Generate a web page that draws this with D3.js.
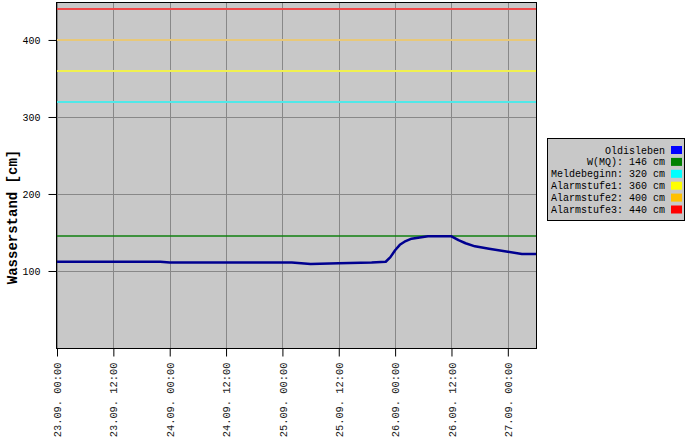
<!DOCTYPE html>
<html>
<head>
<meta charset="utf-8">
<script src="https://cdn.jsdelivr.net/npm/d3@7"></script>
<style>
  html, body { margin: 0; padding: 0; background: #fff; }
  svg { display: block; }
  text { font-family: "Liberation Mono", "DejaVu Sans Mono", monospace; }
</style>
</head>
<body>
<svg id="chart" width="692" height="444"></svg>
<script>
// ---- data ----
const times = ["23.09. 00:00","23.09. 22:00","24.09. 00:00","25.09. 02:00","25.09. 06:00","25.09. 12:00",
  "25.09. 19:00","25.09. 22:00","25.09. 23:00","26.09. 00:00","26.09. 01:00","26.09. 02:00","26.09. 03:30",
  "26.09. 07:00","26.09. 12:00","26.09. 13:30","26.09. 15:00","26.09. 17:00","26.09. 20:00","27.09. 00:00",
  "27.09. 03:00","27.09. 06:00"];
const levels = [112,112,111,111,109,110,111,112,118,127,134,138,142,145,145,140,136,132,129,125,122,122];

const thresholdNames = ["W(MQ)","Meldebeginn","Alarmstufe1","Alarmstufe2","Alarmstufe3"];
const thresholdValues = [146,320,360,400,440];
const thresholdColors = ["#008000","#00ffff","#ffff00","#ffc000","#ff0000"];
const thresholdLineColors = ["#108010","#50e8e8","#f0f050","#e8c878","#f04848"];

const seriesName = "Oldisleben";
const seriesColor = "#000090";
const seriesSwatch = "#0000ff";

const yTicks = [100,200,300,400];
const xStart = "23.09. 00:00", xEnd = "27.09. 06:00";
const yLabel = "Wasserstand [cm]";

// ---- layout ----
const parse = d3.timeParse("%d.%m. %H:%M");
const fmt = d3.timeFormat("%d.%m. %H:%M");
const svg = d3.select("#chart");
const L = 57, R = 536, T = 3, B = 348.5;

const x = d3.scaleTime().domain([parse(xStart), parse(xEnd)]).range([L, R]);
const y = d3.scaleLinear().domain([0, 448]).range([348, T]);

svg.append("rect").attr("x", L).attr("y", T).attr("width", R - L).attr("height", B - T)
  .attr("fill", "#c8c8c8");

const xTickVals = d3.timeHour.every(12).range(parse(xStart), d3.timeHour.offset(parse("27.09. 00:00"), 1));

// grid
svg.append("g").selectAll("line").data(xTickVals).join("line")
  .attr("x1", d => Math.round(x(d)) + 0.5).attr("x2", d => Math.round(x(d)) + 0.5)
  .attr("y1", T).attr("y2", B).attr("stroke", "#888").attr("stroke-width", 1);
svg.append("g").selectAll("line").data(yTicks).join("line")
  .attr("x1", L).attr("x2", R).attr("y1", d => Math.round(y(d)) + 0.5).attr("y2", d => Math.round(y(d)) + 0.5)
  .attr("stroke", "#888").attr("stroke-width", 1);

// thresholds
svg.append("g").selectAll("line").data(thresholdValues).join("line")
  .attr("x1", L).attr("x2", R).attr("y1", d => Math.round(y(d))).attr("y2", d => Math.round(y(d)))
  .attr("stroke", (d, i) => thresholdLineColors[i]).attr("stroke-width", (d, i) => i === 0 ? 1.5 : 2);

// series
const data = times.map((t, i) => ({ t: parse(t), v: levels[i] }));
svg.append("path").datum(data)
  .attr("fill", "none").attr("stroke", seriesColor).attr("stroke-width", 2.5)
  .attr("stroke-linejoin", "round")
  .attr("d", d3.line().x(d => x(d.t)).y(d => y(d.v)));

// frame
svg.append("rect").attr("x", L - 0.5).attr("y", T - 0.5).attr("width", R - L + 1).attr("height", B - T + 0.5)
  .attr("fill", "none").attr("stroke", "#000").attr("stroke-width", 1);

// axes
const yAxis = svg.append("g").attr("transform", `translate(${L - 0.5},0)`)
  .call(d3.axisLeft(y).tickValues(yTicks).tickSize(8).tickPadding(8).tickSizeOuter(0));
yAxis.select(".domain").remove();
yAxis.selectAll("text").attr("font-size", 10).attr("fill", "#000")
  .attr("font-family", "Liberation Mono, monospace");
yAxis.selectAll(".tick line").attr("stroke", "#000");

const xAxis = svg.append("g").attr("transform", `translate(0,${B})`)
  .call(d3.axisBottom(x).tickValues(xTickVals).tickFormat(fmt).tickSize(8).tickSizeOuter(0));
xAxis.select(".domain").remove();
xAxis.selectAll(".tick line").attr("stroke", "#000");
xAxis.selectAll("text")
  .attr("font-size", 10.4).attr("fill", "#222").attr("font-family", "Liberation Mono, monospace")
  .attr("text-anchor", "end").attr("transform", "rotate(-90)")
  .attr("x", -14).attr("y", 0).attr("dy", "0.35em");

// y label
svg.append("text")
  .attr("transform", "translate(17,217) rotate(-90)")
  .attr("text-anchor", "middle").attr("font-size", 14).attr("font-weight", "bold")
  .attr("fill", "#000").text(yLabel);

// legend
const lg = svg.append("g");
lg.append("rect").attr("x", 547.5).attr("y", 138.5).attr("width", 137).attr("height", 82)
  .attr("fill", "#c8c8c8").attr("stroke", "#000").attr("stroke-width", 1);
const legendLabels = [seriesName].concat(thresholdNames.map((n, i) => `${n}: ${thresholdValues[i]} cm`));
const legendColors = [seriesSwatch].concat(thresholdColors);
const rowY = i => 150 + i * 11.9;
lg.selectAll("text").data(legendLabels).join("text")
  .attr("x", 665).attr("y", (d, i) => rowY(i) + 3.5)
  .attr("text-anchor", "end").attr("font-size", 10).attr("fill", "#000")
  .attr("xml:space", "preserve").text(d => d);
lg.selectAll("rect.sw").data(legendColors).join("rect").attr("class", "sw")
  .attr("x", 671).attr("y", (d, i) => rowY(i) - 4).attr("width", 11).attr("height", 8)
  .attr("fill", d => d);
</script>
</body>
</html>
